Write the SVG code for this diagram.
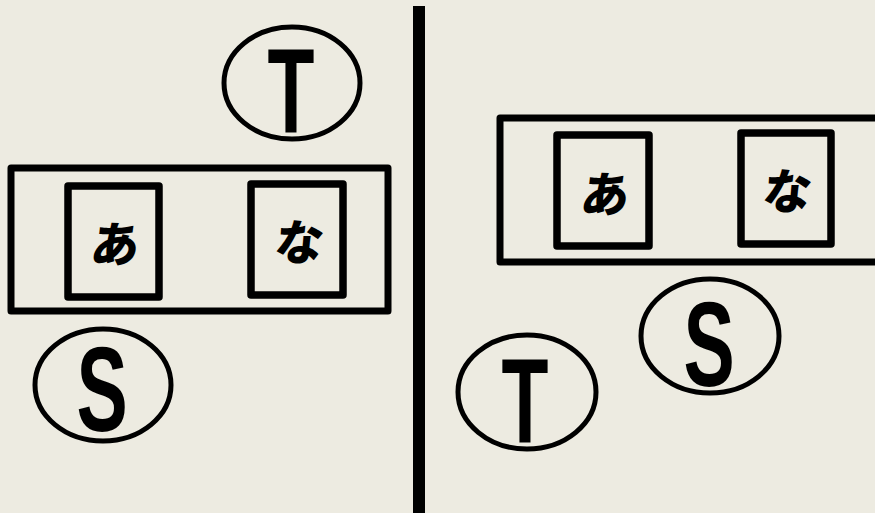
<svg xmlns="http://www.w3.org/2000/svg" width="875" height="513" viewBox="0 0 875 513">
<style>
.bg{fill:#EDEBE1}
.frame{fill:none;stroke:#000;stroke-width:7;stroke-linejoin:round}
.card{fill:none;stroke:#000;stroke-width:7.5;stroke-linejoin:round}
.oval{fill:none;stroke:#000;stroke-width:5}
.kana{font-family:"Noto Sans CJK JP",sans-serif;font-weight:900;font-size:48px;text-anchor:middle;fill:#000}
.lat{font-family:"Liberation Sans",Arial,sans-serif;font-weight:bold;font-size:120px;text-anchor:middle;fill:#000}
</style>
<rect class="bg" x="0" y="0" width="875" height="513"/>
<g id="divider"><line x1="419" y1="6" x2="419" y2="513" stroke="#000" stroke-width="12"/></g>
<g id="left-T"><ellipse class="oval" cx="292" cy="83" rx="68" ry="56"/><text class="lat" transform="translate(291 133) scale(0.64 1)">T</text></g>
<g id="left-tray"><rect class="frame" x="11" y="168" width="377" height="143"/></g>
<g id="left-a"><rect class="card" x="68" y="186" width="91" height="111"/><text class="kana" transform="translate(113 262) skewX(-8)">あ</text></g>
<g id="left-na"><rect class="card" x="251" y="184" width="92" height="111"/><text class="kana" transform="translate(297 260) skewX(-8)">な</text></g>
<g id="left-S"><ellipse class="oval" cx="103" cy="385" rx="68" ry="56"/><text class="lat" transform="translate(102 431) scale(0.64 1)">S</text></g>
<g id="right-tray"><rect class="frame" x="500" y="118" width="390" height="144"/></g>
<g id="right-a"><rect class="card" x="557" y="135" width="92" height="111"/><text class="kana" transform="translate(603 212) skewX(-8)">あ</text></g>
<g id="right-na"><rect class="card" x="741" y="133" width="90" height="111"/><text class="kana" transform="translate(785 209) skewX(-8)">な</text></g>
<g id="right-S"><ellipse class="oval" cx="710" cy="336" rx="69" ry="57"/><text class="lat" transform="translate(709 386) scale(0.64 1)">S</text></g>
<g id="right-T"><ellipse class="oval" cx="527" cy="392" rx="69" ry="57"/><text class="lat" transform="translate(525 443) scale(0.64 1)">T</text></g>
<g id="connectors"></g>
</svg>
